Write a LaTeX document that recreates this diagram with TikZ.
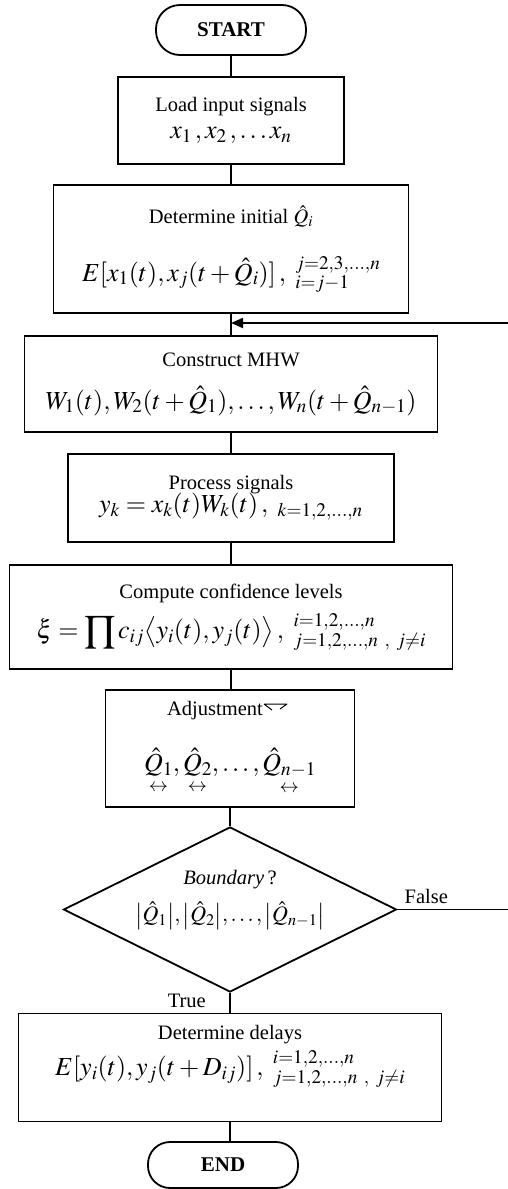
\documentclass[tikz,border=0pt]{standalone}
\usepackage{amsmath,amssymb}
\usepackage{mathptmx}
\usepackage[no-math]{fontspec}
\setmainfont{Liberation Serif}
\usepackage{tikz}
\usetikzlibrary{positioning,arrows.meta,shapes.geometric}
\newcommand{\cond}[1]{\begin{subarray}{l}#1\end{subarray}}
\newcommand{\qh}{\hat{Q}}
\newcommand{\fm}[1]{{\fontsize{26}{30}\selectfont$#1$}}
\tikzset{
  stepbox/.style ={draw, line width=1.8pt, align=center, inner sep=2pt,
                   font=\fontsize{20.5}{24}\selectfont},
  term/.style    ={draw, line width=1.8pt, align=center, inner sep=2pt,
                   font=\fontsize{21}{24}\selectfont\bfseries},
  decide/.style  ={diamond, draw, line width=1.8pt, inner sep=0pt},
  lbl/.style     ={font=\fontsize{20.5}{24}\selectfont, align=center},
  ln/.style      ={line width=1.8pt},
  arr/.style     ={-{Triangle[length=12pt,width=10pt]}, line width=1.8pt},
}
\begin{document}
\begin{tikzpicture}[x=1pt,y=-1pt]
\useasboundingbox (0,0) rectangle (508,1189);
% terminals
\node[term, minimum width=150pt, minimum height=50pt, rounded corners=24pt] (start) at (231,30) {START};
\node[term, minimum width=150pt, minimum height=46pt, rounded corners=22pt] (end) at (223,1165) {END};
% steps
\node[stepbox, minimum width=226pt, minimum height=87pt] (load) at (231,120.5)
  {Load input signals\\[3pt] \fm{x_1\,, x_2\,, \ldots x_n}};
\node[stepbox, minimum width=355pt, minimum height=128pt] (init) at (231,249)
  {Determine initial $\qh_i$\\[28pt]
   \fm{E[x_1(t), x_j(t+\qh_i)]\,,\ \cond{j=2,3,\ldots,n\\ i=j-1}}};
\node[stepbox, minimum width=413pt, minimum height=96pt] (mhw) at (231,384)
  {Construct MHW\\[19pt]
   \fm{W_1(t), W_2(t+\qh_1), \ldots, W_n(t+\qh_{n-1})}};
\node[stepbox, minimum width=326pt, minimum height=88pt] (proc) at (231,498)
  {Process signals\\[-1pt]
   \fm{y_k = x_k(t)W_k(t)\,,\ {}_{k=1,2,\ldots,n}}};
\node[stepbox, minimum width=443pt, minimum height=104pt] (conf) at (231,617)
  {Compute confidence levels\\[10pt]
   \fm{\displaystyle \xi = \prod c_{ij}\bigl\langle y_i(t), y_j(t)\bigr\rangle\,,\ \cond{i=1,2,\ldots,n\\ j=1,2,\ldots,n\ ,\ j\neq i}}};
\node[stepbox, minimum width=249pt, minimum height=117pt] (adj) at (230,748.5)
  {Adjustment\makebox[30pt]{}\\[27pt]
   \fm{\underset{\leftrightarrow}{\qh_1}, \underset{\leftrightarrow}{\qh_2}, \ldots, \underset{\leftrightarrow}{\qh_{n-1}}}};
\draw[line width=1pt] (264,704) -- (287,704) (264,704) -- (272,710) (287,704) -- (280,709);
\node[decide, minimum width=333pt, minimum height=165pt] (bound) at (230,909.5) {};
\node[lbl] (boundtxt) at (230,900)
  {\textit{Boundary}\,?\\[12pt]
   {\fontsize{22}{26}\selectfont$\bigl|\qh_1\bigr|, \bigl|\qh_2\bigr|, \ldots, \bigl|\qh_{n-1}\bigr|$}};
\node[stepbox, minimum width=423pt, minimum height=108pt] (delays) at (230,1067.5)
  {Determine delays\\[6pt]
   \fm{E[y_i(t), y_j(t+D_{ij})]\,,\ \cond{i=1,2,\ldots,n\\ j=1,2,\ldots,n\ ,\ j\neq i}}\\[10pt]~};
% connectors
\draw[ln] (start) -- (load);
\draw[ln] (load) -- (init);
\draw[ln] (init) -- (mhw);
\draw[ln] (mhw) -- (proc);
\draw[ln] (proc) -- (conf);
\draw[ln] (conf.south) -- (conf.south |- adj.north);
\draw[ln] (adj) -- (bound);
\draw[ln] (bound.south) -- (delays.north)
  node[pos=0, lbl, anchor=north east, xshift=-20pt, yshift=3pt] (truelbl) {True};
\draw[ln] (delays.south) -- (delays.south |- end.north);
\coordinate (back) at (513,323);
\draw[arr] (bound.east) -- node[lbl, above, pos=0.25, yshift=2pt] (falselbl) {False} (bound.east -| back)
  -- (back) -- (back -| init.south);
\end{tikzpicture}
\end{document}
